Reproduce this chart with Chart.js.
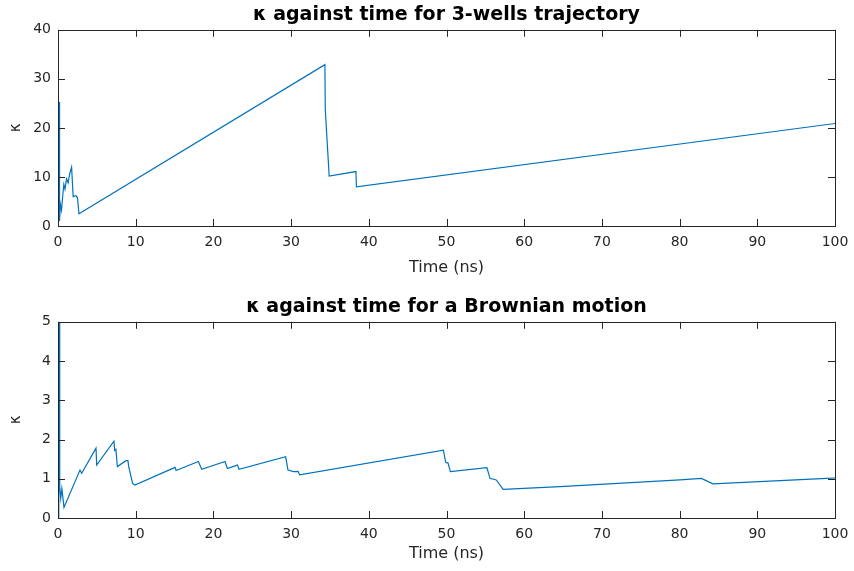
<!DOCTYPE html>
<html>
<head>
<meta charset="utf-8">
<script src="https://cdn.jsdelivr.net/npm/chart.js@4.4.1/dist/chart.umd.min.js"></script>
<style>
  html, body { margin: 0; padding: 0; background: #fff; overflow: hidden; }
  .panel { position: absolute; left: 0; width: 854px; }
  #top { top: 0; height: 285px; }
  #bottom { top: 292px; height: 279px; }
</style>
</head>
<body>
<div class="panel" id="top"><canvas id="chart1"></canvas></div>
<div class="panel" id="bottom"><canvas id="chart2"></canvas></div>
<script>
// ========== DATA ==========
const wellsTime = [0, 0.15, 0.2, 0.3, 0.45, 0.6, 0.75, 0.9, 1.1, 1.3, 1.5, 1.75, 1.95, 2.3, 2.5, 2.7, 34.35, 34.4, 34.9, 38.35, 38.4, 100];
const wellsKappa = [0, 25.3, 1, 4.5, 3.2, 6, 8.5, 7.5, 9.6, 8.8, 10.6, 12, 6, 6.2, 5.8, 2.5, 32.9, 23.7, 10.2, 11.1, 8.0, 20.9];

const brownTime = [0, 0.1, 0.15, 0.22, 0.35, 0.5, 0.77, 2.83, 3.05, 4.89, 4.98, 7.2, 7.3, 7.45, 7.64, 8.75, 9.0, 9.1, 9.3, 9.6, 9.9,
  15.06, 15.2, 18.06, 18.5, 21.5, 21.8, 22.8, 23.1, 23.3, 29.3, 29.6, 30.3, 30.9, 31.1, 49.6, 49.9, 50.2, 50.5,
  55.2, 55.6, 56.4, 57.3, 64.6, 80.05, 82.8, 84.3, 98.9, 100];
const brownKappa = [0, 0.6, 5.0, 0.8, 0.5, 0.75, 0.27, 1.22, 1.14, 1.78, 1.35, 1.96, 1.72, 1.75, 1.31, 1.46, 1.46, 1.31, 1.14, 0.88, 0.84,
  1.29, 1.21, 1.44, 1.24, 1.44, 1.26, 1.33, 1.35, 1.24, 1.56, 1.22, 1.18, 1.19, 1.1, 1.73, 1.42, 1.40, 1.18,
  1.28, 1.01, 0.97, 0.73, 0.80, 0.97, 1.01, 0.87, 1.01, 1.02];

const timeTicks = [0, 10, 20, 30, 40, 50, 60, 70, 80, 90, 100];
const wellsTicks = [0, 10, 20, 30, 40];
const brownTicks = [0, 1, 2, 3, 4, 5];

// ========== STYLE ==========
const axisColor = "#262626";
const lineColor = "#0072BD";
const baseFont = "'DejaVu Sans', sans-serif";

// box around the axes with inward ticks on all four sides
const boxPlugin = {
  id: "box",
  afterDraw(chart) {
    const { ctx, chartArea: a, scales } = chart;
    const len = 7;
    ctx.save();
    ctx.strokeStyle = axisColor;
    ctx.lineWidth = 1;
    ctx.strokeRect(Math.round(a.left) + 0.5, Math.round(a.top) + 0.5, Math.round(a.right - a.left), Math.round(a.bottom - a.top));
    ctx.beginPath();
    scales.x.ticks.forEach((t) => {
      const px = Math.round(scales.x.getPixelForValue(t.value)) + 0.5;
      ctx.moveTo(px, a.bottom); ctx.lineTo(px, a.bottom - len);
      ctx.moveTo(px, a.top); ctx.lineTo(px, a.top + len);
    });
    scales.y.ticks.forEach((t) => {
      const py = Math.round(scales.y.getPixelForValue(t.value)) + 0.5;
      ctx.moveTo(a.left, py); ctx.lineTo(a.left + len, py);
      ctx.moveTo(a.right, py); ctx.lineTo(a.right - len, py);
    });
    ctx.stroke();
    ctx.restore();
  },
};

function makeChart(id, title, xs, ys, yTicks, xHeight) {
  const points = xs.map((x, i) => ({ x: x, y: ys[i] }));
  return new Chart(document.getElementById(id), {
    type: "line",
    data: {
      datasets: [
        {
          data: points,
          borderColor: lineColor,
          borderWidth: 1.2,
          pointRadius: 0,
          tension: 0,
          fill: false,
        },
      ],
    },
    options: {
      responsive: true,
      maintainAspectRatio: false,
      animation: false,
      layout: { padding: 0 },
      plugins: {
        legend: { display: false },
        tooltip: { enabled: false },
        title: {
          display: true,
          text: title,
          fullSize: false,
          color: "#000",
          font: { family: baseFont, size: 19, weight: "bold" },
          padding: { top: 4, bottom: 3 },
        },
      },
      scales: {
        x: {
          type: "linear",
          min: 0,
          max: 100,
          afterFit: (s) => {
            s.height = xHeight;
            s.paddingLeft = 0;
            s.paddingRight = 19;
          },
          afterBuildTicks: (s) => { s.ticks = timeTicks.map((v) => ({ value: v })); },
          grid: { display: false, drawTicks: false },
          border: { display: false },
          ticks: { color: axisColor, padding: 8, font: { family: baseFont, size: 14 } },
          title: {
            display: true,
            text: "Time (ns)",
            color: axisColor,
            font: { family: baseFont, size: 16 },
            padding: { top: 0, bottom: 8 },
          },
        },
        y: {
          min: yTicks[0],
          max: yTicks[yTicks.length - 1],
          afterFit: (s) => { s.width = 58; },
          afterBuildTicks: (s) => { s.ticks = yTicks.map((v) => ({ value: v })); },
          grid: { display: false, drawTicks: false },
          border: { display: false },
          ticks: { color: axisColor, padding: 7, font: { family: baseFont, size: 14 } },
          title: {
            display: true,
            text: "κ",
            color: axisColor,
            font: { family: baseFont, size: 15 },
            padding: { top: 7, bottom: 0 },
          },
        },
      },
    },
    plugins: [boxPlugin],
  });
}

makeChart("chart1", "κ against time for 3-wells trajectory", wellsTime, wellsKappa, wellsTicks, 59);
makeChart("chart2", "κ against time for a Brownian motion", brownTime, brownKappa, brownTicks, 53);
</script>
</body>
</html>
